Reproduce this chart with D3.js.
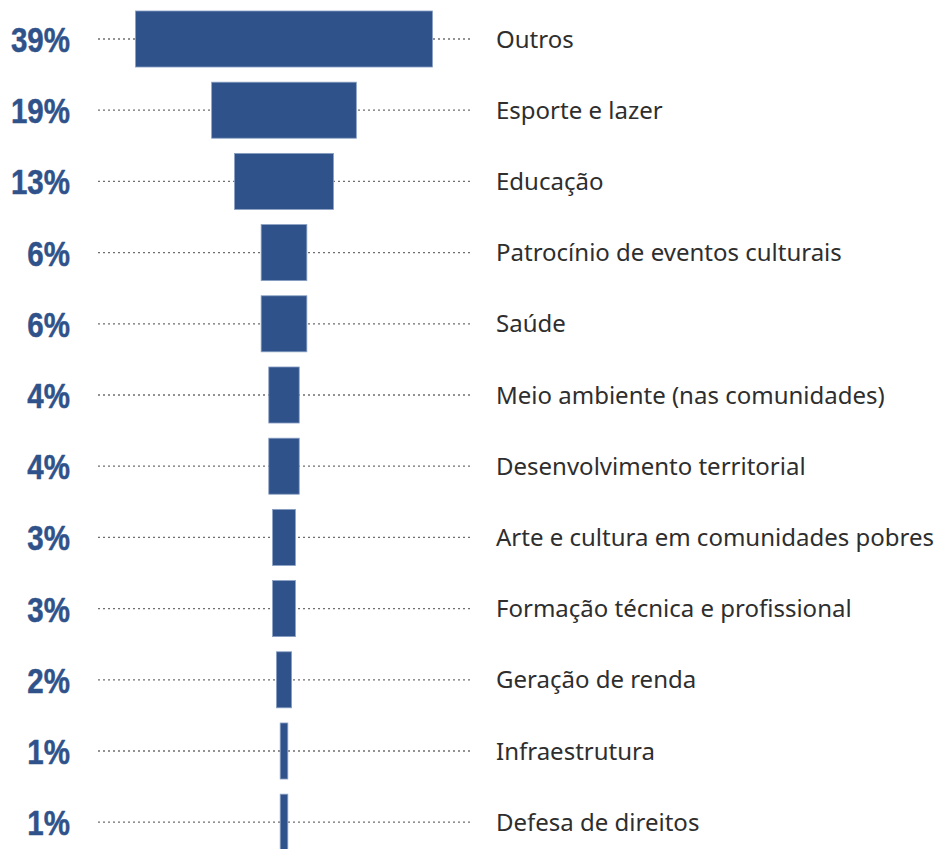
<!DOCTYPE html>
<html>
<head>
<meta charset="utf-8">
<script src="https://cdn.jsdelivr.net/npm/d3@7"></script>
<style>
  html, body { margin: 0; padding: 0; background: #ffffff; }
  svg { display: block; }
</style>
</head>
<body>
<svg id="chart" width="935" height="849"></svg>
<script>
// Áreas de investimento social e participação de cada uma (%)
const categories = [
  "Outros",
  "Esporte e lazer",
  "Educação",
  "Patrocínio de eventos culturais",
  "Saúde",
  "Meio ambiente (nas comunidades)",
  "Desenvolvimento territorial",
  "Arte e cultura em comunidades pobres",
  "Formação técnica e profissional",
  "Geração de renda",
  "Infraestrutura",
  "Defesa de direitos"
];
const values = [39, 19, 13, 6, 6, 4, 4, 3, 3, 2, 1, 1];
const valueLabels = values.map(v => v + "%");

const blue = "#30528a";
const svg = d3.select("#chart");

const centerX = 284;
const y = d3.scaleBand()
  .domain(categories)
  .range([3.4, 857.8])
  .paddingInner(0.213)
  .paddingOuter(0.1065);

const w = d3.scaleLinear().domain([0, 39]).range([0, 297]);

const rows = svg.selectAll("g.row")
  .data(categories.map((c, i) => ({ cat: c, value: values[i], label: valueLabels[i] })))
  .join("g")
  .attr("class", "row")
  .attr("transform", d => `translate(0,${y(d.cat) + y.bandwidth() / 2})`);

// linha pontilhada guia
rows.append("line")
  .attr("x1", 98).attr("x2", 470)
  .attr("y1", 0).attr("y2", 0)
  .attr("stroke", "#6f6f6f")
  .attr("stroke-width", 1.3)
  .attr("stroke-dasharray", "2,3");

// barras centralizadas (funil)
rows.append("rect")
  .attr("x", d => centerX - w(d.value) / 2)
  .attr("y", -y.bandwidth() / 2)
  .attr("width", d => w(d.value))
  .attr("height", y.bandwidth())
  .attr("fill", blue)
  .attr("stroke", "#8aa0c4")
  .attr("stroke-width", 0.8);

// percentuais (fonte condensada por escala horizontal)
rows.append("text")
  .attr("transform", "translate(70,0) scale(0.82,1)")
  .attr("x", 0)
  .attr("y", 0)
  .attr("dy", "0.36em")
  .attr("text-anchor", "end")
  .attr("font-family", "'Liberation Sans', Arial, sans-serif")
  .attr("font-weight", "bold")
  .attr("font-size", 36)
  .attr("fill", blue)
  .attr("stroke", blue)
  .attr("stroke-width", 0.5)
  .attr("stroke-linejoin", "round")
  .text(d => d.label);

// nomes das categorias
rows.append("text")
  .attr("x", 496)
  .attr("y", 0)
  .attr("dy", "0.36em")
  .attr("font-family", "'Noto Sans', 'Open Sans', sans-serif")
  .attr("font-size", 24)
  .attr("fill", "#2e2e2e")
  .text(d => d.cat);
</script>
</body>
</html>
